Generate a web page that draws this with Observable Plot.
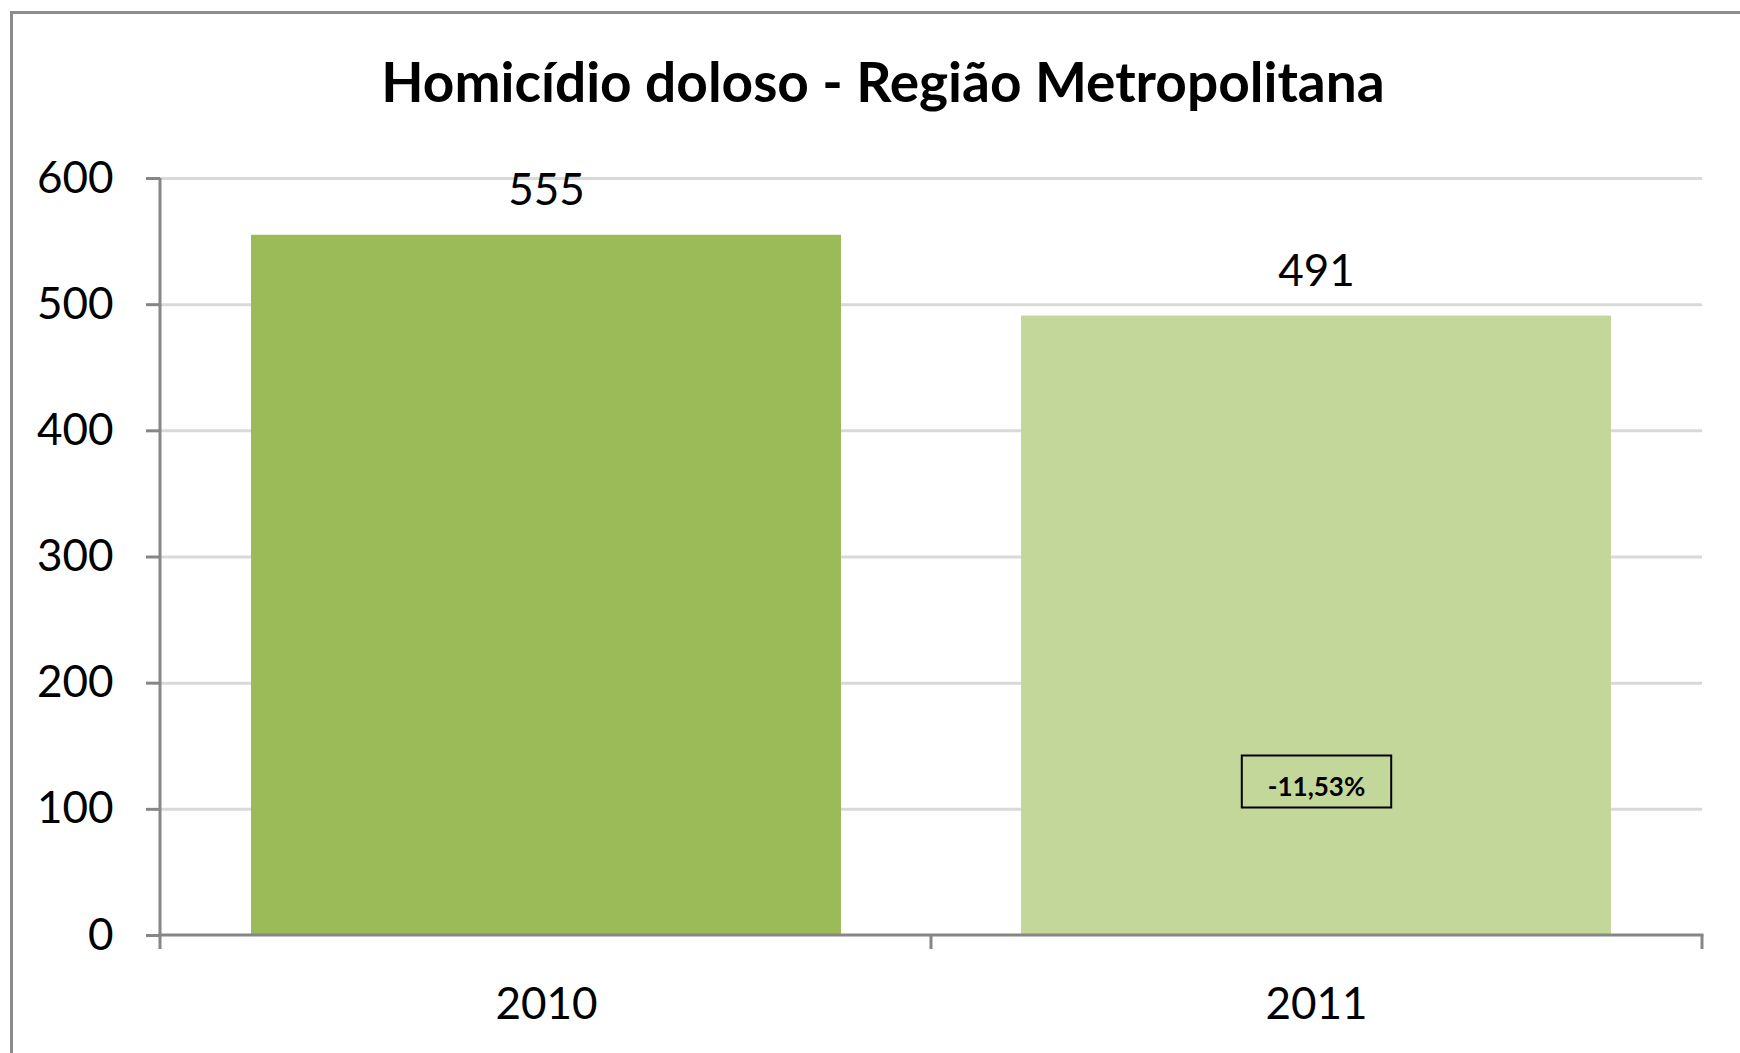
<!DOCTYPE html>
<html>
<head>
<meta charset="utf-8">
<script src="https://cdn.jsdelivr.net/npm/d3@7"></script>
<script src="https://cdn.jsdelivr.net/npm/@observablehq/plot@0.6"></script>
<style>
  html, body { margin: 0; padding: 0; background: #fff; width: 1740px; height: 1053px; overflow: hidden; }
  #frame { position: absolute; left: 10px; top: 11px; width: 1900px; height: 1200px; border: 3px solid #8c8c8c; box-sizing: border-box; }
  #title { position: absolute; left: 0; top: 0; width: 1766px; height: 130px; text-align: center;
           font-family: Lato, "Open Sans", sans-serif; font-weight: bold; font-size: 55px; line-height: 1; color: #000; }
  #title span { position: absolute; left: 0; right: 0; top: 54px; }
  #chart { position: absolute; left: 0; top: 130px; }
</style>
</head>
<body>
<div id="frame"></div>
<div id="title"><span></span></div>
<div id="chart"></div>
<script>
const titleText = "Homicídio doloso - Região Metropolitana";
const years = ["2010", "2011"];
const values = [555, 491];
const barColors = ["#9BBB59", "#C4D79B"];
const yTicks = [0, 100, 200, 300, 400, 500, 600];

document.querySelector("#title span").textContent = titleText;

const data = years.map((y, i) => ({year: y, value: values[i], color: barColors[i]}));
const change = (values[1] - values[0]) / values[0] * 100;
const changeLabel = change.toFixed(2).replace(".", ",") + "%";

const axisColor = "#868686";

// custom mark: y-axis line, x-axis baseline and category-boundary ticks
function axisFrame() {
  return Plot.ruleY([0], {
    render(index, scales, values, dims, context) {
      const {x, y} = scales;
      const g = d3.create("svg:g");
      const x0 = dims.marginLeft, x1 = dims.width - dims.marginRight;
      const yb = y(0), yt = y(600);
      const step = x.step();
      const bounds = [x0];
      x.domain().forEach(d => bounds.push(x(d) + x.bandwidth() + (step - x.bandwidth()) / 2));
      bounds[bounds.length - 1] = x1;
      g.append("line").attr("x1", x0).attr("x2", x0).attr("y1", yt).attr("y2", yb)
        .attr("stroke", axisColor).attr("stroke-width", 3);
      g.append("line").attr("x1", x0 - 1.5).attr("x2", x1 + 1.5).attr("y1", yb).attr("y2", yb)
        .attr("stroke", axisColor).attr("stroke-width", 3);
      bounds.forEach(bx => g.append("line").attr("x1", bx).attr("x2", bx).attr("y1", yb).attr("y2", yb + 14)
        .attr("stroke", axisColor).attr("stroke-width", 3));
      return g.node();
    }
  });
}

const plot = Plot.plot({
  width: 1740,
  height: 923,
  marginLeft: 160,
  marginRight: 38,
  marginTop: 48,
  marginBottom: 118,
  style: {fontFamily: "Lato, 'Open Sans', sans-serif", background: "transparent", color: "#000"},
  x: {domain: years, paddingInner: 0.2335, paddingOuter: 0.117, label: null},
  y: {domain: [0, 600], label: null},
  marks: [
    Plot.gridY(yTicks.filter(t => t > 0), {stroke: "#d9d9d9", strokeOpacity: 1, strokeWidth: 3}),
    Plot.barY(data, {x: "year", y: "value", fill: "color"}),
    axisFrame(),
    Plot.axisY(yTicks, {tickSize: 14, tickPadding: 33, fontSize: 44, stroke: axisColor, strokeWidth: 3, fill: "#000", label: null}),
    Plot.axisX({tickSize: 0, tickPadding: 52, fontSize: 44, fill: "#000", label: null}),
    Plot.text(data, {x: "year", y: "value", text: d => String(d.value), dy: -44, fontSize: 44, fill: "#000"}),
    Plot.text([{year: years[1], label: changeLabel}], {x: "year", text: "label", frameAnchor: "bottom", dy: -140,
      fontSize: 26, fontWeight: "bold", fill: "#000", className: "pct"})
  ]
});
document.getElementById("chart").appendChild(plot);

// box around the percentage label
const pctG = plot.querySelector("g.pct") || [...plot.querySelectorAll("g[aria-label='text']")].pop();
if (pctG) {
  const bb = pctG.getBBox();
  const r = document.createElementNS("http://www.w3.org/2000/svg", "rect");
  r.setAttribute("x", bb.x - 26);
  r.setAttribute("width", bb.width + 52);
  r.setAttribute("y", bb.y - 14);
  r.setAttribute("height", bb.height + 20);
  r.setAttribute("fill", "none");
  r.setAttribute("stroke", "#000");
  r.setAttribute("stroke-width", 2);
  pctG.insertBefore(r, pctG.firstChild);
}
</script>
</body>
</html>
